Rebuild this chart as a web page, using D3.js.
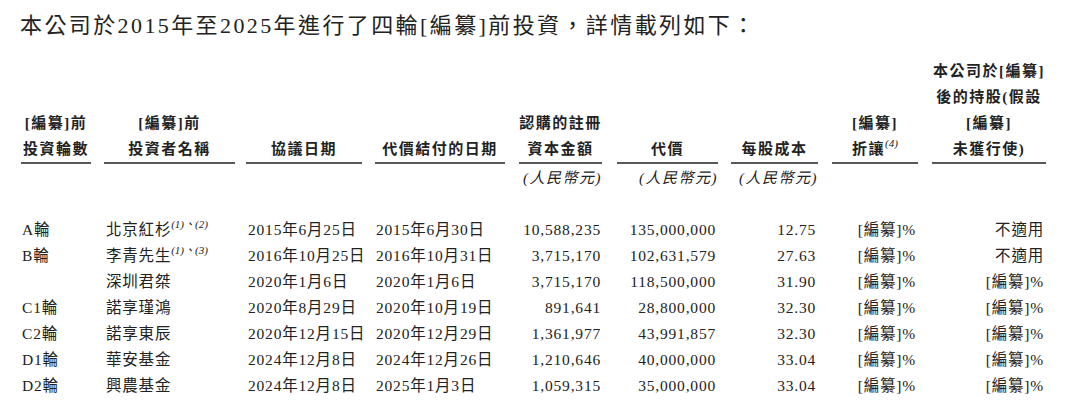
<!DOCTYPE html>
<html><head><meta charset="utf-8">
<script src="https://cdn.jsdelivr.net/npm/d3@7"></script>
<style>body{margin:0;background:#fff}</style>
</head><body><svg id="c"></svg>
<script>
const title = "本公司於2015年至2025年進行了四輪[編纂]前投資，詳情載列如下：";
const rounds = ["A輪", "B輪", "", "C1輪", "C2輪", "D1輪", "D2輪"];
const investors = ["北京紅杉", "李青先生", "深圳君桀", "諾享瑾鴻", "諾享東辰", "華安基金", "興農基金"];
const notes = ["(1)、(2)", "(1)、(3)", "", "", "", "", ""];
const agreeDates = ["2015年6月25日", "2016年10月25日", "2020年1月6日", "2020年8月29日", "2020年12月15日", "2024年12月8日", "2024年12月8日"];
const payDates = ["2015年6月30日", "2016年10月31日", "2020年1月6日", "2020年10月19日", "2020年12月29日", "2024年12月26日", "2025年1月3日"];
const capital = ["10,588,235", "3,715,170", "3,715,170", "891,641", "1,361,977", "1,210,646", "1,059,315"];
const consideration = ["135,000,000", "102,631,579", "118,500,000", "28,800,000", "43,991,857", "40,000,000", "35,000,000"];
const costPerShare = ["12.75", "27.63", "31.90", "32.30", "32.30", "33.04", "33.04"];
const discount = ["[編纂]%", "[編纂]%", "[編纂]%", "[編纂]%", "[編纂]%", "[編纂]%", "[編纂]%"];
const holding = ["不適用", "不適用", "[編纂]%", "[編纂]%", "[編纂]%", "[編纂]%", "[編纂]%"];

// column header lines, bottom line last
const headers = [
  ["[編纂]前", "投資輪數"], ["[編纂]前", "投資者名稱"], ["協議日期"], ["代價結付的日期"],
  ["認購的註冊", "資本金額"], ["代價"], ["每股成本"], ["[編纂]", "折讓"],
  ["本公司於[編纂]", "後的持股(假設", "[編纂]", "未獲行使)"]
];
const headerSup = [null, null, null, null, null, null, null, "(4)", null];
const units = ["", "", "", "", "(人民幣元)", "(人民幣元)", "(人民幣元)", "", ""];

const W = 1080, H = 417;
const font = "'Liberation Serif','Noto Sans CJK TC',serif";
const svg = d3.select("#c").attr("width", W).attr("height", H)
  .style("font-family", font).style("fill", "#222");

// column extents (underline spans)
const cols = [[21, 91], [104, 235], [246, 362], [375, 505], [519, 602], [617, 718], [731, 818], [832, 918], [932, 1046]];
const rowY = d3.scalePoint().domain(d3.range(7)).range([230, 386]);

svg.append("text").attr("x", 20).attr("y", 33).attr("font-size", 22)
  .attr("letter-spacing", 2.4).text(title);

// headers
const lineH = 26, lineY = 163;
headers.forEach((h, i) => {
  const cx = (cols[i][0] + cols[i][1]) / 2;
  h.forEach((t, j) => {
    const y = lineY - 9 - (h.length - 1 - j) * lineH;
    const tx = svg.append("text").attr("x", cx).attr("y", y).attr("font-size", 15)
      .attr("letter-spacing", 1.5)
      .attr("font-weight", "bold").attr("text-anchor", "middle").text(t);
    if (j === h.length - 1 && headerSup[i]) {
      tx.append("tspan").attr("font-size", 11).attr("font-style", "italic")
        .attr("dy", -7).attr("font-weight", "normal").attr("letter-spacing", 0).text(headerSup[i]);
    }
  });
  svg.append("line").attr("x1", cols[i][0]).attr("x2", cols[i][1])
    .attr("y1", lineY).attr("y2", lineY).attr("stroke", "#222").attr("stroke-width", 1.6);
  if (units[i]) {
    svg.append("text").attr("x", cols[i][1]).attr("y", 183).attr("font-size", 15)
      .attr("letter-spacing", 1.5)
      .attr("font-style", "italic").attr("text-anchor", "end").text(units[i]);
  }
});

// body
const cell = (arr, x, anchor) => svg.append("g").selectAll("text").data(arr).join("text")
  .attr("x", x).attr("y", (d, i) => rowY(i) + 5).attr("font-size", 15.5)
  .attr("letter-spacing", 0.8)
  .attr("text-anchor", anchor).text(d => d);

cell(rounds, 22, "start");
cell(investors, 106, "start").append("tspan").attr("font-size", 11).attr("font-style", "italic")
  .attr("letter-spacing", 0).attr("dy", -7).text((d, i) => notes[i]);
cell(agreeDates, 248, "start");
cell(payDates, 376, "start");
cell(capital, 601, "end");
cell(consideration, 716, "end");
cell(costPerShare, 816, "end");
cell(discount, 916, "end");
cell(holding, 1044, "end");
</script></body></html>
